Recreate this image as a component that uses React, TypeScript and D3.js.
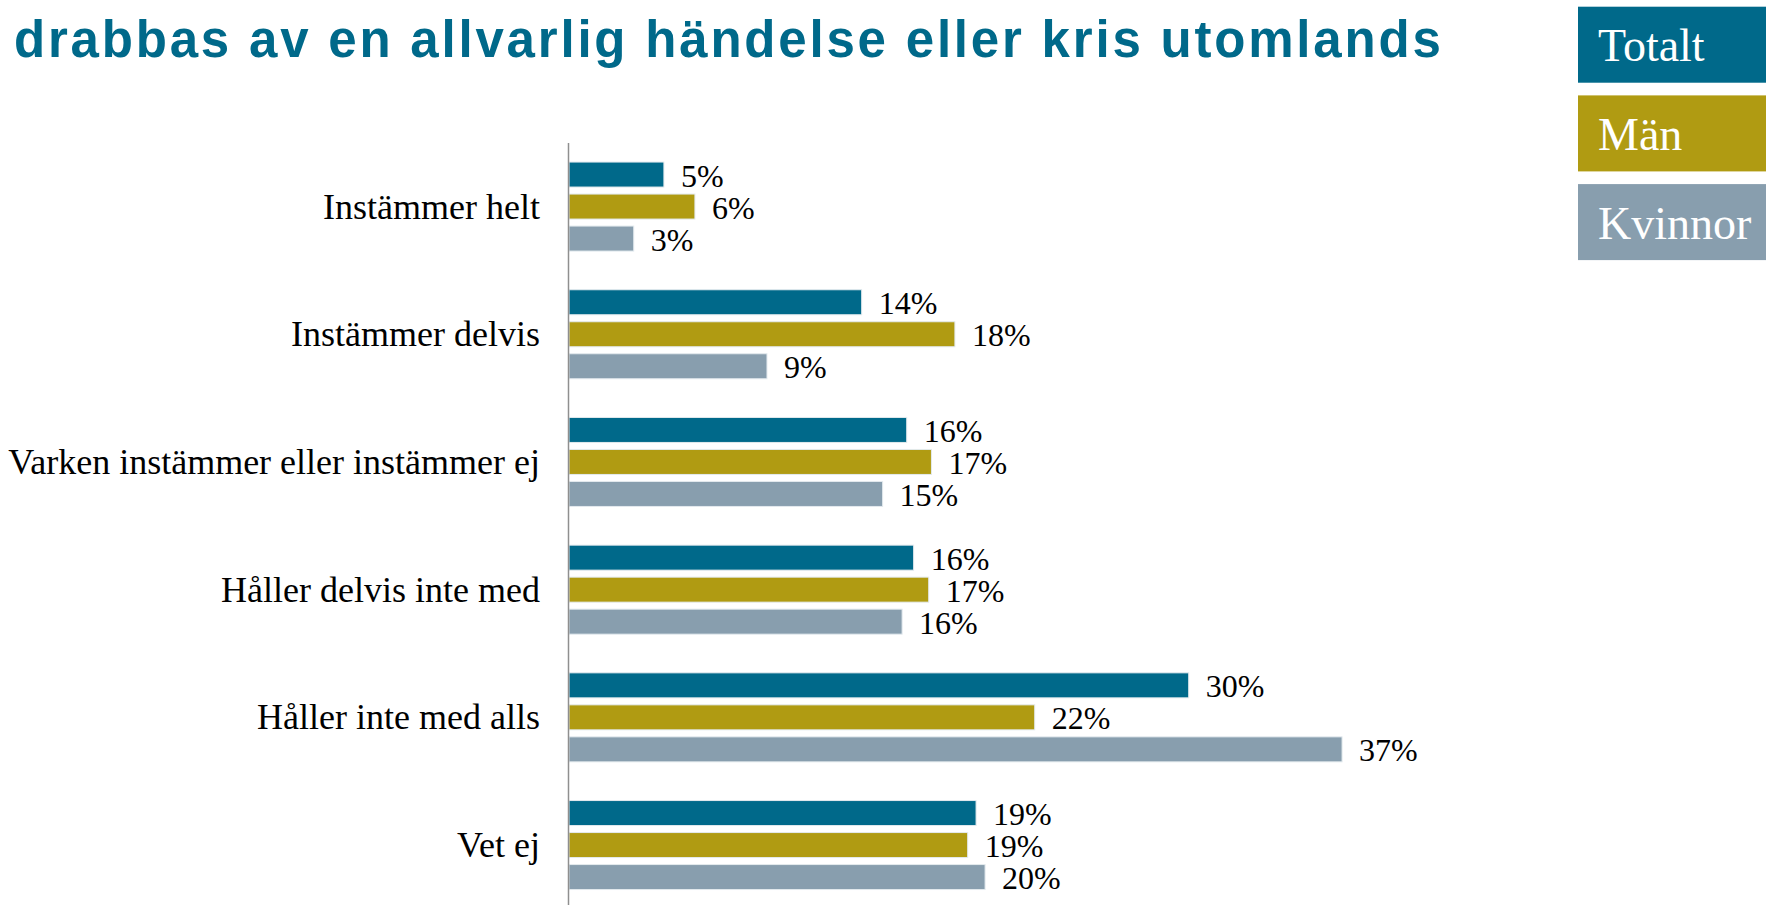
import React from 'react';
import * as d3 from 'd3';

const width = 1766;
const height = 905;

const title = 'drabbas av en allvarlig händelse eller kris utomlands';

const categories = [
    'Instämmer helt',
    'Instämmer delvis',
    'Varken instämmer eller instämmer ej',
    'Håller delvis inte med',
    'Håller inte med alls',
    'Vet ej'
];

const seriesNames = ['Totalt', 'Män', 'Kvinnor'];
const seriesColors = ['#00698a', '#b09b12', '#889eae'];

// percent per category, same order as categories (labels are rounded)
const totalt = [4.53, 13.97, 16.12, 16.45, 29.58, 19.43];
const man = [6.01, 18.42, 17.3, 17.17, 22.23, 19.03];
const kvinnor = [3.09, 9.45, 14.97, 15.9, 36.9, 19.86];

const seriesValues = [totalt, man, kvinnor];

const pct = (v: number) => d3.format('.0f')(v) + '%';

export default function App() {
    const x = d3.scaleLinear().domain([0, 40]).range([569, 1407]);

    const y0 = d3.scaleBand()
        .domain(categories)
        .range([142.7, 908.9])
        .paddingInner(0.303)
        .paddingOuter(0.1515);

    const y1 = d3.scaleBand()
        .domain(seriesNames)
        .range([0, y0.bandwidth()])
        .paddingInner(0.219)
        .paddingOuter(0);

    const legendY = d3.scaleBand()
        .domain(seriesNames)
        .range([6.7, 260.1])
        .paddingInner(0.143)
        .paddingOuter(0);

    const serif = '"Liberation Serif", "Times New Roman", serif';

    return (
        <svg width={width} height={height}
            style={{ position: 'absolute', left: 0, top: 0, background: '#fff' }}>
            {/* title (first line is cut off above the frame) */}
            <text x={14} y={56.7} fill="#00698a"
                style={{ fontFamily: '"Liberation Sans", Arial, sans-serif', fontWeight: 'bold', fontSize: 51, letterSpacing: 2.8 }}>
                {title}
            </text>

            {/* category labels */}
            {categories.map(c => (
                <text key={c} x={540} y={(y0(c) ?? 0) + y0.bandwidth() / 2}
                    textAnchor="end" dominantBaseline="central" fill="#000"
                    style={{ fontFamily: serif, fontSize: 36 }}>
                    {c}
                </text>
            ))}

            {/* bars and value labels */}
            {categories.map((c, ci) => (
                <g key={c} transform={`translate(0, ${y0(c)})`}>
                    {seriesNames.map((s, si) => {
                        const v = seriesValues[si][ci];
                        const yy = y1(s) ?? 0;
                        return (
                            <g key={s}>
                                <rect x={x(0)} y={yy} width={x(v) - x(0)} height={y1.bandwidth()}
                                    fill={seriesColors[si]} stroke="#e3eaee" strokeWidth={1} />
                                <text x={x(v) + 17} y={yy + y1.bandwidth() / 2 + 1}
                                    dominantBaseline="central" fill="#000"
                                    style={{ fontFamily: serif, fontSize: 32 }}>
                                    {pct(v)}
                                </text>
                            </g>
                        );
                    })}
                </g>
            ))}

            {/* axis line */}
            <line x1={568.5} x2={568.5} y1={143} y2={height} stroke="#8f8f8f" strokeWidth={1.5} />

            {/* legend */}
            {seriesNames.map((s, i) => (
                <g key={s} transform={`translate(1578, ${legendY(s)})`}>
                    <rect width={200} height={legendY.bandwidth()} fill={seriesColors[i]} />
                    <text x={20} y={legendY.bandwidth() / 2 + 1} dominantBaseline="central" fill="#fff"
                        style={{ fontFamily: serif, fontSize: 46 }}>
                        {s}
                    </text>
                </g>
            ))}
        </svg>
    );
}
